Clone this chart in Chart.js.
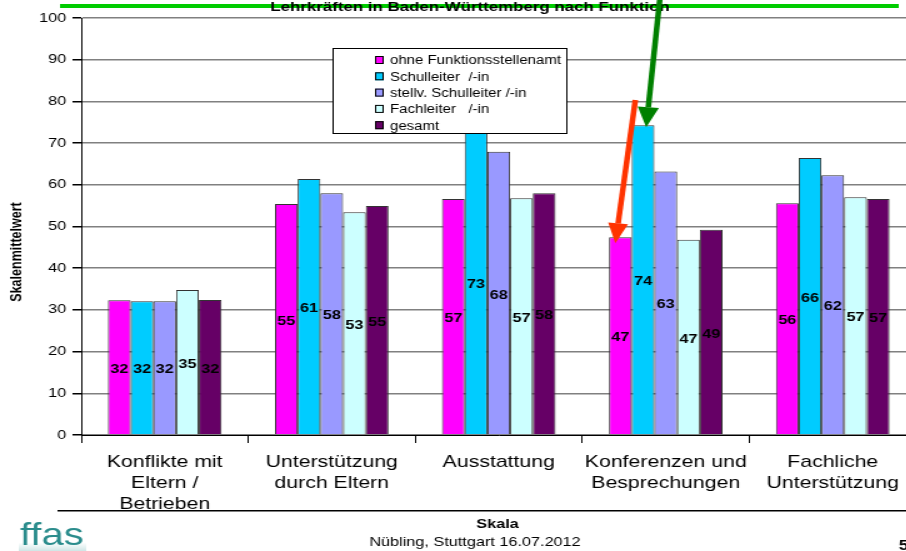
<!DOCTYPE html>
<html>
<head>
<meta charset="utf-8">
<script src="https://cdn.jsdelivr.net/npm/chart.js@4"></script>
<style>
  html, body { margin: 0; padding: 0; background: #fff; }
  #wrap { position: relative; width: 906px; height: 551px; overflow: hidden; }
  /* the slide is drawn narrow and stretched sideways */
  #chart { position: absolute; left: 0; top: 0; transform: scaleX(1.25); transform-origin: 0 0; }
</style>
</head>
<body>
<div id="wrap"><canvas id="chart" width="760" height="551"></canvas></div>
<script>
const categories = [
    ['Konflikte mit', 'Eltern /', 'Betrieben'],
    ['Unterstützung', 'durch Eltern'],
    ['Ausstattung'],
    ['Konferenzen und', 'Besprechungen'],
    ['Fachliche', 'Unterstützung']
];
const seriesNames = ['ohne Funktionsstellenamt', 'Schulleiter  /-in', 'stellv. Schulleiter /-in', 'Fachleiter   /-in', 'gesamt'];
const ohneFunktion = [32.3, 55.4, 56.6, 47.4, 55.6];
const schulleiter = [32.1, 61.4, 73.2, 74.3, 66.4];
const stellvSchulleiter = [32.1, 58.0, 67.9, 63.2, 62.3];
const fachleiter = [34.8, 53.4, 56.8, 46.8, 57.0];
const gesamt = [32.4, 54.9, 58.0, 49.2, 56.6];
const seriesColors = ['#ff00ff', '#00ccff', '#9999ff', '#ccffff', '#660066'];
const yTicks = [0, 10, 20, 30, 40, 50, 60, 70, 80, 90, 100];

const FONT = '"Liberation Sans", Arial, sans-serif';

// value labels in the middle of each bar
const barLabels = {
    id: 'barLabels',
    afterDatasetsDraw(chart) {
        const ctx = chart.ctx;
        ctx.save();
        ctx.font = 'bold 13px ' + FONT;
        ctx.fillStyle = '#000';
        ctx.textAlign = 'center';
        ctx.textBaseline = 'middle';
        chart.data.datasets.forEach((ds, i) => {
            chart.getDatasetMeta(i).data.forEach((bar, j) => {
                const v = Math.round(ds.data[j]);
                ctx.fillText(String(v), bar.x, (bar.y + bar.base) / 2 + 2);
            });
        });
        ctx.restore();
    }
};

function drawArrow(ctx, x1, y1, x2, y2, color, width, headLen, headHalf) {
    const a = Math.atan2(y2 - y1, x2 - x1);
    const bx = x2 - headLen * Math.cos(a), by = y2 - headLen * Math.sin(a);
    ctx.save();
    ctx.strokeStyle = color;
    ctx.fillStyle = color;
    ctx.lineWidth = width;
    ctx.beginPath();
    ctx.moveTo(x1, y1);
    ctx.lineTo(bx, by);
    ctx.stroke();
    ctx.beginPath();
    ctx.moveTo(x2, y2);
    ctx.lineTo(bx + headHalf * Math.sin(a), by - headHalf * Math.cos(a));
    ctx.lineTo(bx - headHalf * Math.sin(a), by + headHalf * Math.cos(a));
    ctx.closePath();
    ctx.fill();
    ctx.restore();
}

// legend box, titles, footer and arrows
const decorations = {
    id: 'decorations',
    afterDraw(chart) {
        const ctx = chart.ctx;
        ctx.save();

        // legend box
        ctx.fillStyle = '#fff';
        ctx.fillRect(266, 48, 187, 85);
        ctx.strokeStyle = '#000';
        ctx.lineWidth = 1;
        ctx.strokeRect(266.5, 48.5, 187, 85);
        ctx.font = '12px ' + FONT;
        ctx.textBaseline = 'middle';
        ctx.textAlign = 'left';
        chart.data.datasets.forEach((ds, i) => {
            const y = 60 + i * 16.3;
            ctx.fillStyle = ds.backgroundColor;
            ctx.fillRect(300, y - 4, 7, 8);
            ctx.strokeStyle = '#000';
            ctx.strokeRect(300.5, y - 3.5, 6, 7);
            ctx.fillStyle = '#000';
            ctx.fillText(ds.label, 312, y + 1);
        });

        // green rule and title
        ctx.fillStyle = '#00cc00';
        ctx.fillRect(48, 4, 671, 4);
        ctx.fillStyle = '#000';
        ctx.font = 'bold 13.5px ' + FONT;
        ctx.textAlign = 'center';
        ctx.textBaseline = 'middle';
        ctx.fillText('Lehrkräften in Baden-Württemberg nach Funktion', 376, 7);

        // y axis title
        ctx.save();
        ctx.translate(13.5, 252);
        ctx.rotate(-Math.PI / 2);
        ctx.font = 'bold 12.5px ' + FONT;
        ctx.fillText('Skalenmittelwert', 0, 0);
        ctx.restore();

        // footer
        ctx.fillStyle = '#000';
        ctx.fillRect(46, 510, 700, 1.5);
        ctx.font = 'bold 13px ' + FONT;
        ctx.fillText('Skala', 398, 524);
        ctx.font = '13px ' + FONT;
        ctx.fillText('Nübling, Stuttgart 16.07.2012', 380, 542);
        ctx.font = 'bold 14px ' + FONT;
        ctx.textAlign = 'left';
        ctx.fillText('5', 719, 546);

        // logo
        const g = ctx.createLinearGradient(0, 517, 0, 551);
        g.addColorStop(0, '#ffffff');
        g.addColorStop(0.75, '#ffffff');
        g.addColorStop(1, '#cfe6e6');
        ctx.fillStyle = g;
        ctx.fillRect(15, 517, 54, 34);
        ctx.fillStyle = '#2a8c8c';
        ctx.font = '32px ' + FONT;
        ctx.textBaseline = 'alphabetic';
        ctx.fillText('ffas', 16, 545);

        // arrows pointing at the Konferenzen bars
        const red = chart.getDatasetMeta(0).data[3];
        const green = chart.getDatasetMeta(1).data[3];
        drawArrow(ctx, red.x + 12, 100, red.x - 4, red.y + 6, '#ff3300', 4.5, 20, 8);
        drawArrow(ctx, green.x + 13.5, -2, green.x + 2.5, green.y + 2, '#008000', 4.5, 20, 8.5);

        ctx.restore();
    }
};

const datasets = [ohneFunktion, schulleiter, stellvSchulleiter, fachleiter, gesamt].map((d, i) => ({
    label: seriesNames[i],
    data: d,
    backgroundColor: seriesColors[i],
    borderColor: '#333333',
    borderWidth: 1,
    categoryPercentage: 0.68,
    barPercentage: 1.0
}));

const chart = new Chart(document.getElementById('chart'), {
    type: 'bar',
    data: { labels: categories, datasets: datasets },
    options: {
        responsive: false,
        animation: false,
        layout: { padding: { left: 0, right: 27, top: 18, bottom: 0 } },
        plugins: {
            legend: { display: false },
            tooltip: { enabled: false }
        },
        scales: {
            x: {
                afterFit(scale) { scale.height = 116; },
                grid: {
                    offset: true,
                    drawOnChartArea: false,
                    color: '#000',
                    tickLength: 8
                },
                border: { color: '#000', width: 1 },
                ticks: {
                    color: '#000',
                    font: { family: FONT, size: 17, lineHeight: 1.23 },
                    padding: 9,
                    maxRotation: 0,
                    autoSkip: false
                }
            },
            y: {
                min: 0,
                max: 100,
                afterFit(scale) { scale.width = 65; },
                afterBuildTicks(scale) { scale.ticks = yTicks.map(v => ({ value: v })); },
                grid: {
                    color: '#808080',
                    lineWidth: 1.5,
                    tickLength: 7,
                    tickColor: '#000'
                },
                border: { color: '#000', width: 1 },
                ticks: {
                    color: '#000',
                    font: { family: FONT, size: 13 },
                    padding: 5
                }
            }
        }
    },
    plugins: [barLabels, decorations]
});
</script>
</body>
</html>
